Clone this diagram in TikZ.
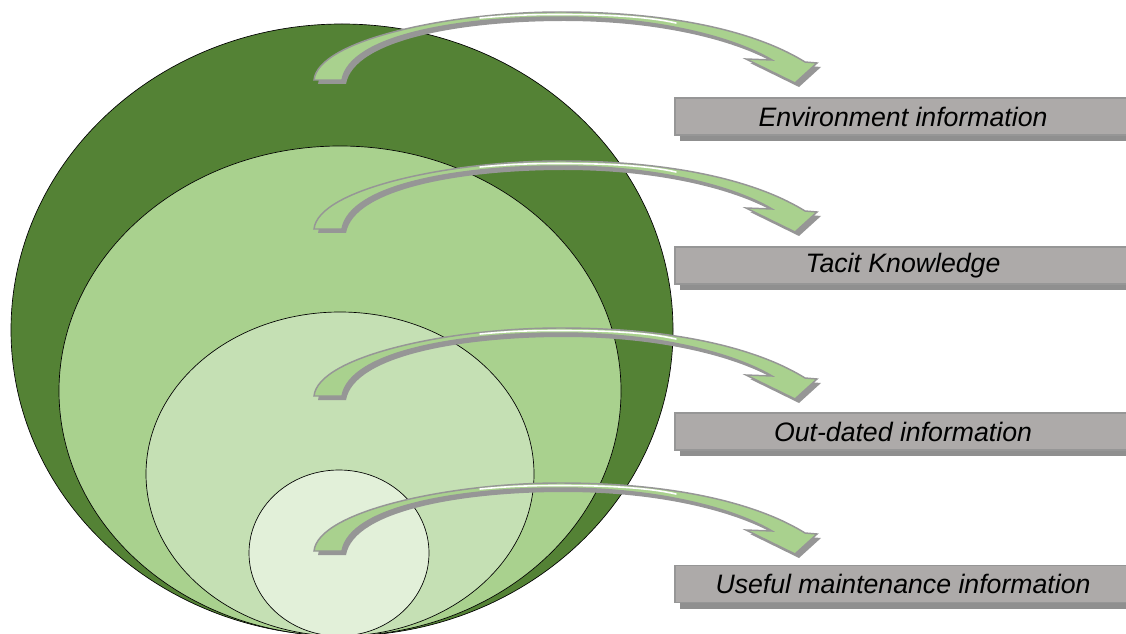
\documentclass[tikz,border=0pt]{standalone}
\usepackage{fontspec}
\newfontfamily\labelfont{Liberation Sans}
\usetikzlibrary{shadows}
\definecolor{darkgreen}{HTML}{548235}
\definecolor{midgreen}{HTML}{A9D18E}
\definecolor{lightgreen}{HTML}{C5E0B4}
\definecolor{palegreen}{HTML}{E2F0D9}
\definecolor{arrowgray}{HTML}{969696}
\definecolor{boxgray}{HTML}{ADAAA9}
\definecolor{shadowgray}{HTML}{8F8F8F}
\tikzset{
  ring/.style={draw=black, line width=0.5pt},
  labelbox/.style={rectangle, fill=boxgray, draw=arrowgray, line width=1.1pt,
    minimum width=342pt, minimum height=27.75pt, inner sep=0pt,
    font=\labelfont\itshape\fontsize{20}{24}\selectfont,
    drop shadow={shadow xshift=3.75pt, shadow yshift=-4.5pt, fill=shadowgray, opacity=1}},
  arrowshadow/.style={fill=arrowgray},
  arrowbody/.style={fill=midgreen, draw=arrowgray, line width=1.1pt, line join=miter},
  arrowshine/.style={draw=white, line width=1.2pt, line cap=round},
  bendarrow/.pic={
    \begin{scope}[shift={(4,4)}]
      \path[arrowshadow] (314,80) .. controls (318,40) and (450,12) .. (560,12)
        .. controls (680,12) and (760,34) .. (805,62) -- (817,63) -- (795,83)
        -- (746,59) -- (772,60) .. controls (735,38) and (660,17) .. (560,17)
        .. controls (460,17) and (350,35) .. (342,80) -- cycle;
    \end{scope}
    \path[arrowbody] (314,80) .. controls (318,40) and (450,12) .. (560,12)
      .. controls (680,12) and (760,34) .. (805,62) -- (817,63) -- (795,83)
      -- (746,59) -- (772,60) .. controls (735,38) and (660,17) .. (560,17)
      .. controls (460,17) and (350,35) .. (342,80) -- cycle;
    \path[arrowshine] (480,18) .. controls (510,15.2) and (530,14.5) .. (560,14.5)
      .. controls (610,14.5) and (650,17) .. (676,23);
  }
}
\begin{document}
\begin{tikzpicture}[x=0.75pt,y=-0.75pt]
\useasboundingbox (0,0) rectangle (1126,634);
% nested ellipses
\draw[ring, fill=darkgreen]  (342,330) ellipse [x radius=248.25pt, y radius=229.5pt];
\draw[ring, fill=midgreen]   (340,391) ellipse [x radius=210.75pt, y radius=183.75pt];
\draw[ring, fill=lightgreen] (340,474) ellipse [x radius=145.5pt, y radius=121.5pt];
\draw[ring, fill=palegreen]  (339,553) ellipse [x radius=67.5pt, y radius=62.25pt];
% curved arrows
\pic (arrowA) at (0,0)   {bendarrow};
\pic (arrowB) at (0,149) {bendarrow};
\pic (arrowC) at (0,316) {bendarrow};
\pic (arrowD) at (0,471) {bendarrow};
% labels
\node[labelbox] (env)    at (903,116.5) {Environment information};
\node[labelbox] (tacit)  at (903,265.5) {Tacit Knowledge};
\node[labelbox] (outd)   at (903,431.5) {Out-dated information};
\node[labelbox] (useful) at (903,584)   {Useful maintenance information};
\end{tikzpicture}
\end{document}
